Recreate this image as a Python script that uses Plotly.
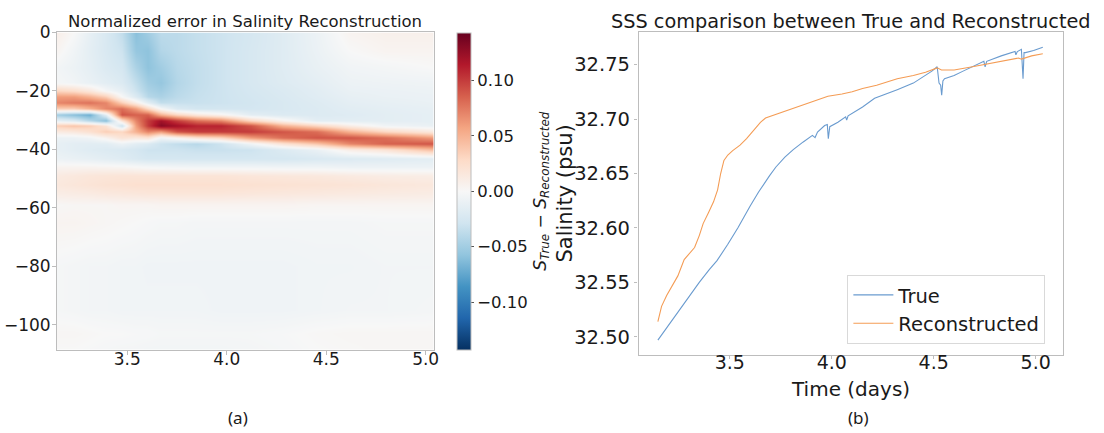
import numpy as np
import plotly.graph_objects as go

# ---------------- data: panel (a) normalized error heatmap ----------------
depth_levels = [0, -6, -12, -17, -20, -22, -24, -26, -28, -30, -32, -34, -36, -38, -40,
                -43, -46, -49, -52, -55, -59, -65, -80, -95, -103, -109]
time_cols = [3.15, 3.23, 3.31, 3.39, 3.47, 3.54, 3.60, 3.67, 3.75, 3.85, 3.97,
             4.12, 4.28, 4.45, 4.62, 4.80, 5.04]

# one depth profile (along depth_levels) per time column
err_profiles = [
    [0.008, 0.003, -0.004, -0.002, 0.03, 0.06, 0.07, 0.035, -0.05, -0.012, 0.035, 0.012, -0.008, -0.012, -0.012, -0.008, 0.004, 0.013, 0.015, 0.01, 0.001, 0.004, -0.002, -0.002, 0.002, 0.0],
    [0.0, -0.005, -0.008, -0.005, 0.025, 0.06, 0.075, 0.035, -0.06, -0.02, 0.04, 0.015, -0.008, -0.015, -0.015, -0.01, 0.004, 0.015, 0.017, 0.011, 0.002, 0.004, -0.003, -0.003, 0.002, 0.0],
    [-0.012, -0.014, -0.013, -0.01, 0.015, 0.05, 0.078, 0.05, -0.07, -0.04, 0.035, 0.022, -0.005, -0.016, -0.018, -0.012, 0.004, 0.017, 0.019, 0.012, 0.002, 0.003, -0.004, -0.004, 0.001, -0.001],
    [-0.022, -0.022, -0.02, -0.015, -0.002, 0.035, 0.07, 0.07, -0.015, -0.06, 0.02, 0.035, 0.005, -0.016, -0.02, -0.015, 0.003, 0.018, 0.021, 0.014, 0.002, 0.002, -0.004, -0.004, 0.0, -0.002],
    [-0.035, -0.03, -0.025, -0.02, -0.012, 0.0, 0.035, 0.08, 0.09, 0.02, -0.03, 0.03, 0.02, -0.008, -0.022, -0.018, 0.002, 0.019, 0.022, 0.015, 0.003, 0.001, -0.005, -0.005, 0.0, -0.003],
    [-0.06, -0.055, -0.045, -0.035, -0.03, -0.02, 0.01, 0.06, 0.085, 0.07, 0.06, 0.05, 0.015, -0.015, -0.025, -0.022, 0.0, 0.019, 0.023, 0.016, 0.003, 0.0, -0.005, -0.005, -0.001, -0.003],
    [-0.05, -0.058, -0.058, -0.05, -0.045, -0.04, -0.015, 0.03, 0.085, 0.10, 0.10, 0.07, 0.02, -0.02, -0.03, -0.025, -0.002, 0.019, 0.023, 0.017, 0.003, -0.001, -0.006, -0.005, -0.001, -0.004],
    [-0.038, -0.042, -0.05, -0.055, -0.05, -0.045, -0.035, 0.0, 0.05, 0.12, 0.13, 0.06, -0.005, -0.03, -0.03, -0.025, -0.003, 0.019, 0.023, 0.017, 0.004, -0.002, -0.006, -0.005, -0.002, -0.004],
    [-0.038, -0.038, -0.04, -0.042, -0.04, -0.038, -0.033, -0.02, 0.03, 0.10, 0.12, 0.09, 0.005, -0.035, -0.03, -0.025, -0.004, 0.019, 0.023, 0.017, 0.004, -0.002, -0.006, -0.005, -0.002, -0.004],
    [-0.034, -0.034, -0.035, -0.035, -0.034, -0.033, -0.032, -0.026, 0.015, 0.08, 0.11, 0.10, 0.02, -0.04, -0.032, -0.025, -0.005, 0.019, 0.023, 0.017, 0.004, -0.003, -0.006, -0.005, -0.002, -0.004],
    [-0.03, -0.03, -0.03, -0.03, -0.03, -0.03, -0.03, -0.026, 0.005, 0.07, 0.11, 0.10, 0.03, -0.03, -0.032, -0.025, -0.005, 0.019, 0.023, 0.017, 0.004, -0.003, -0.006, -0.006, -0.002, -0.004],
    [-0.025, -0.024, -0.024, -0.024, -0.025, -0.026, -0.027, -0.026, -0.015, 0.03, 0.09, 0.10, 0.06, -0.005, -0.03, -0.025, -0.005, 0.017, 0.022, 0.016, 0.004, -0.003, -0.006, -0.006, -0.002, -0.003],
    [-0.018, -0.018, -0.018, -0.019, -0.021, -0.022, -0.023, -0.023, -0.02, 0.005, 0.05, 0.09, 0.08, 0.02, -0.02, -0.025, -0.006, 0.016, 0.021, 0.015, 0.004, -0.003, -0.006, -0.006, -0.001, -0.002],
    [-0.008, -0.009, -0.011, -0.014, -0.016, -0.017, -0.019, -0.02, -0.02, -0.015, 0.03, 0.08, 0.09, 0.04, -0.01, -0.022, -0.006, 0.015, 0.02, 0.014, 0.003, -0.003, -0.005, -0.005, 0.001, 0.0],
    [0.004, 0.0, -0.005, -0.008, -0.01, -0.012, -0.014, -0.016, -0.018, -0.015, 0.01, 0.05, 0.09, 0.07, 0.01, -0.02, -0.008, 0.013, 0.019, 0.013, 0.003, -0.003, -0.005, -0.004, 0.002, 0.001],
    [0.007, 0.004, -0.003, -0.007, -0.009, -0.01, -0.012, -0.014, -0.015, -0.015, -0.005, 0.03, 0.08, 0.085, 0.02, -0.018, -0.008, 0.011, 0.017, 0.012, 0.003, -0.002, -0.004, -0.004, 0.002, 0.002],
    [0.007, 0.004, 0.0, -0.006, -0.008, -0.009, -0.01, -0.012, -0.013, -0.013, -0.01, 0.015, 0.06, 0.09, 0.045, -0.015, -0.008, 0.01, 0.015, 0.011, 0.003, -0.002, -0.004, -0.003, 0.002, 0.002],
]
depth_ticks = [0, -20, -40, -60, -80, -100]
depth_tick_text = ["0", "\u221220", "\u221240", "\u221260", "\u221280", "\u2212100"]
cbar_ticks = [-0.10, -0.05, 0.0, 0.05, 0.10]
cbar_tick_text = ["\u22120.10", "\u22120.05", "0.00", "0.05", "0.10"]

# ---------------- data: panel (b) SSS time series ----------------
true_time = [3.147, 3.20, 3.25, 3.301, 3.35, 3.40, 3.437, 3.49, 3.539, 3.599, 3.641, 3.695,
             3.726, 3.77, 3.811, 3.86, 3.905, 3.918, 3.93, 3.965, 3.978, 3.983, 3.99, 4.03,
             4.068, 4.073, 4.08, 4.151, 4.21, 4.321, 4.40, 4.491, 4.517, 4.526, 4.534, 4.539,
             4.545, 4.553, 4.60, 4.644, 4.746, 4.752, 4.76, 4.831, 4.899, 4.903, 4.91, 4.93,
             4.934, 4.938, 4.943, 4.95, 4.99, 5.035]
true_sal = [32.497, 32.511, 32.524, 32.537, 32.550, 32.562, 32.570, 32.585, 32.600, 32.620,
            32.633, 32.648, 32.656, 32.665, 32.672, 32.679, 32.685, 32.683, 32.688, 32.694,
            32.695, 32.682, 32.693, 32.697, 32.702, 32.699, 32.703, 32.711, 32.719, 32.727,
            32.733, 32.744, 32.748, 32.733, 32.731, 32.722, 32.735, 32.737, 32.740, 32.744,
            32.753, 32.748, 32.753, 32.758, 32.762, 32.759, 32.762, 32.764, 32.745, 32.737,
            32.761, 32.761, 32.763, 32.766]
reco_time = [3.147, 3.165, 3.19, 3.216, 3.245, 3.276, 3.30, 3.327, 3.35, 3.369, 3.395, 3.42,
             3.44, 3.455, 3.471, 3.49, 3.514, 3.55, 3.582, 3.62, 3.65, 3.675, 3.72, 3.77,
             3.811, 3.87, 3.93, 3.981, 4.05, 4.10, 4.151, 4.22, 4.321, 4.40, 4.46, 4.517,
             4.538, 4.57, 4.6, 4.69, 4.746, 4.80, 4.86, 4.916, 4.93, 4.945, 4.98, 5.035]
reco_sal = [32.514, 32.528, 32.538, 32.546, 32.556, 32.571, 32.576, 32.582, 32.593, 32.604,
            32.614, 32.624, 32.635, 32.650, 32.662, 32.667, 32.671, 32.676, 32.682, 32.690,
            32.697, 32.701, 32.704, 32.707, 32.710, 32.714, 32.718, 32.721, 32.723, 32.725,
            32.728, 32.731, 32.737, 32.740, 32.743, 32.747, 32.745, 32.745, 32.745, 32.748,
            32.750, 32.752, 32.754, 32.756, 32.755, 32.756, 32.758, 32.760]
time_ticks = [3.5, 4.0, 4.5, 5.0]
time_tick_text = ["3.5", "4.0", "4.5", "5.0"]
sal_ticks = [32.50, 32.55, 32.60, 32.65, 32.70, 32.75]
sal_tick_text = ["32.50", "32.55", "32.60", "32.65", "32.70", "32.75"]

# ---------------- figure ----------------
W, H = 1104, 433
FONT = "DejaVu Sans"
SPINE = "#bdbdbd"
TXT = "#1a1a1a"

rdbu_r = [[0.0, "#053061"], [0.1, "#2166ac"], [0.2, "#4393c3"], [0.3, "#92c5de"],
          [0.4, "#d1e5f0"], [0.5, "#f7f7f7"], [0.6, "#fddbc7"], [0.7, "#f4a582"],
          [0.8, "#d6604d"], [0.9, "#b2182b"], [1.0, "#67001f"]]

def px_x(p):
    return p / W

def px_y(p):
    return 1 - p / H

fig = go.Figure()
fig.add_trace(go.Heatmap(
    x=time_cols, y=depth_levels, z=np.array(err_profiles).T,
    zmin=-0.143, zmax=0.143, colorscale=rdbu_r, zsmooth="best",
    xaxis="x", yaxis="y",
    colorbar=dict(
        x=px_x(459), xanchor="left", xpad=0, ypad=0,
        y=px_y(185.5), yanchor="middle", len=325 / H, lenmode="fraction",
        thickness=14, thicknessmode="pixels",
        outlinecolor=SPINE, outlinewidth=1,
        tickmode="array", tickvals=cbar_ticks, ticktext=cbar_tick_text,
        ticks="outside", ticklen=3, tickcolor="#555555",
        tickfont=dict(family=FONT, size=16.5, color=TXT),
        title=dict(text="<i>S</i><sub><i>True</i></sub> \u2212 <i>S</i><sub><i>Reconstructed</i></sub>",
                   side="right", font=dict(family=FONT, size=17, color=TXT)),
    ),
))
fig.add_trace(go.Scatter(x=true_time, y=true_sal, mode="lines", name="True",
                         line=dict(color="#6a9bcf", width=1.1), xaxis="x2", yaxis="y2"))
fig.add_trace(go.Scatter(x=reco_time, y=reco_sal, mode="lines", name="Reconstructed",
                         line=dict(color="#f49c55", width=1.1), xaxis="x2", yaxis="y2"))

axis_common = dict(showline=True, mirror=True, linecolor=SPINE, linewidth=1.3,
                   ticks="outside", ticklen=3.5, tickcolor=SPINE, showgrid=False,
                   zeroline=False)

fig.update_layout(
    width=W, height=H, margin=dict(l=0, r=0, t=0, b=0),
    paper_bgcolor="white", plot_bgcolor="white",
    showlegend=True,
    xaxis=dict(domain=[px_x(57), px_x(436)], range=[3.145, 5.04], anchor="y",
               tickmode="array", tickvals=time_ticks, ticktext=time_tick_text,
               tickfont=dict(family=FONT, size=17, color=TXT),
               ticklabelstandoff=-10, **axis_common),
    yaxis=dict(domain=[px_y(348), px_y(23)], range=[-108.7, 0], anchor="x",
               tickmode="array", tickvals=depth_ticks, ticktext=depth_tick_text,
               tickfont=dict(family=FONT, size=17, color=TXT),
               ticklabelstandoff=-2, **axis_common),
    xaxis2=dict(domain=[px_x(642), px_x(1069)], range=[3.052, 5.135], anchor="y2",
                tickmode="array", tickvals=time_ticks, ticktext=time_tick_text,
                tickfont=dict(family=FONT, size=19, color=TXT),
                ticklabelstandoff=-13, **axis_common),
    yaxis2=dict(domain=[px_y(353), px_y(23)], range=[32.4835, 32.7795], anchor="x2",
                tickmode="array", tickvals=sal_ticks, ticktext=sal_tick_text,
                tickfont=dict(family=FONT, size=19.5, color=TXT), **axis_common),
    legend=dict(x=px_x(852), y=px_y(271), xanchor="left", yanchor="top",
                bgcolor="white", bordercolor="#d9d9d9", borderwidth=1,
                font=dict(family=FONT, size=19.5, color=TXT),
                itemwidth=40, tracegroupgap=0),
    annotations=[
        dict(text="Normalized error in Salinity Reconstruction", x=px_x(246), y=px_y(12),
             xref="paper", yref="paper", xanchor="center", yanchor="middle", showarrow=False,
             font=dict(family=FONT, size=16.5, color=TXT)),
        dict(text="SSS comparison between True and Reconstructed", x=px_x(856), y=px_y(12),
             xref="paper", yref="paper", xanchor="center", yanchor="middle", showarrow=False,
             font=dict(family=FONT, size=19.3, color=TXT)),
        dict(text="Time (days)", x=px_x(855.5), y=px_y(388), xref="paper", yref="paper",
             xanchor="center", yanchor="middle", showarrow=False,
             font=dict(family=FONT, size=20, color=TXT)),
        dict(text="Salinity (psu)", x=px_x(568), y=px_y(188), xref="paper", yref="paper",
             xanchor="center", yanchor="middle", showarrow=False, textangle=-90,
             font=dict(family=FONT, size=21, color=TXT)),
        dict(text="(a)", x=px_x(239), y=px_y(417), xref="paper", yref="paper",
             xanchor="center", yanchor="middle", showarrow=False,
             font=dict(family="Noto Sans", size=17, color=TXT)),
        dict(text="(b)", x=px_x(863), y=px_y(417), xref="paper", yref="paper",
             xanchor="center", yanchor="middle", showarrow=False,
             font=dict(family="Noto Sans", size=17, color=TXT)),
    ],
)

fig.write_html("out.html")
